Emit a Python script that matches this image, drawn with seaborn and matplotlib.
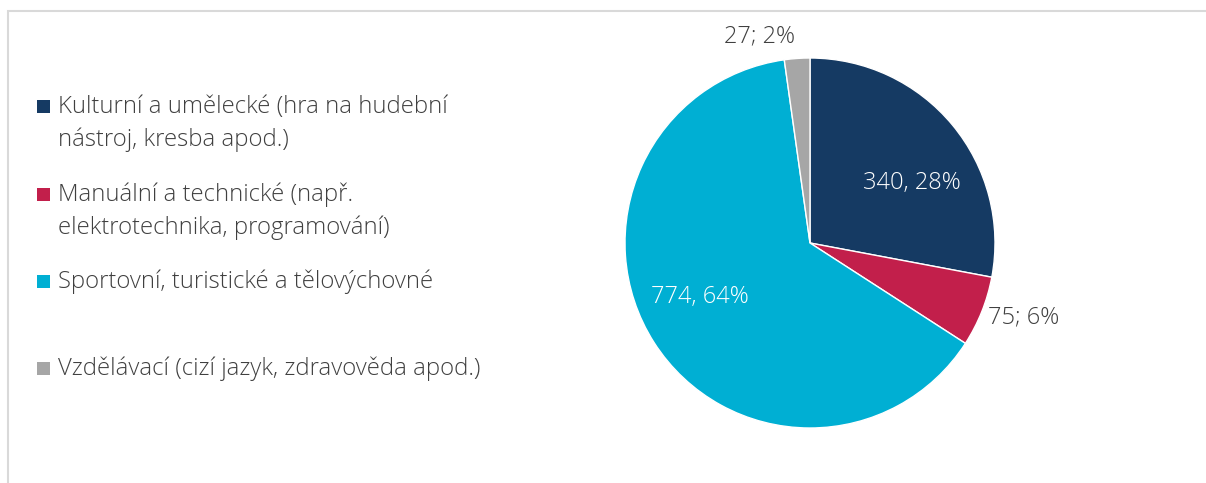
import numpy as np
import matplotlib
matplotlib.use("Agg")
import matplotlib.pyplot as plt
from matplotlib.patches import Rectangle
import seaborn as sns

# data
categories = [
    "Kulturní a umělecké (hra na hudební\nnástroj, kresba apod.)",
    "Manuální a technické (např.\nelektrotechnika, programování)",
    "Sportovní, turistické a tělovýchovné",
    "Vzdělávací (cizí jazyk, zdravověda apod.)",
]
counts = [340, 75, 774, 27]
value_labels = ["340, 28%", "75; 6%", "774, 64%", "27; 2%"]

colors = sns.color_palette(["#153A63", "#C21F4B", "#00AFD3", "#A6A6A6"])
label_colors = ["white", "#404040", "white", "#404040"]
# label placement (radius as fraction of R, angle in degrees)
label_radius = [0.64, 1.22, 0.66, 1.15]
label_angle = [30.5, -19.2, 206.0, 103.6]

W, H = 1206, 483

sns.set_theme(style="white")
plt.rcParams["font.family"] = ["Open Sans", "DejaVu Sans"]

fig = plt.figure(figsize=(W / 100, H / 100), dpi=100)


def fx(px):
    return px / W


def fy(py):
    return 1 - py / H


# light frame around the chart area
fig.patches.append(Rectangle((fx(8), fy(500)), fx(1220) - fx(8), fy(11) - fy(500),
                             transform=fig.transFigure, fill=False,
                             edgecolor="#D9D9D9", linewidth=1.5))

# pie
cx, cy, R = 810, 243, 185
ax = fig.add_axes([fx(cx - R), fy(cy + R), 2 * R / W, 2 * R / H])
ax.pie(counts, colors=colors, startangle=90, counterclock=False, radius=1.0,
       wedgeprops=dict(edgecolor="white", linewidth=1.0))
ax.set_xlim(-1, 1)
ax.set_ylim(-1, 1)
ax.set_aspect("auto")
ax.axis("off")

for text, r, a, c in zip(value_labels, label_radius, label_angle, label_colors):
    ang = np.deg2rad(a)
    ax.text(r * np.cos(ang), r * np.sin(ang), text, ha="center", va="center",
            fontsize=17, fontweight="light", color=c, clip_on=False)

# legend drawn by hand so each entry sits on its own row
baselines = [113, 201, 288, 375]
line_step = 33
for label, col, base in zip(categories, colors, baselines):
    fig.patches.append(Rectangle((fx(37), fy(base)), 13 / W, 13 / H,
                                 transform=fig.transFigure, facecolor=col,
                                 edgecolor="none"))
    for i, line in enumerate(label.split("\n")):
        fig.text(fx(58), fy(base + i * line_step), line, ha="left", va="baseline",
                 fontsize=17.2, fontweight="light", color="#404040",
                 transform=fig.transFigure)

fig.savefig("out.png", dpi=100)
